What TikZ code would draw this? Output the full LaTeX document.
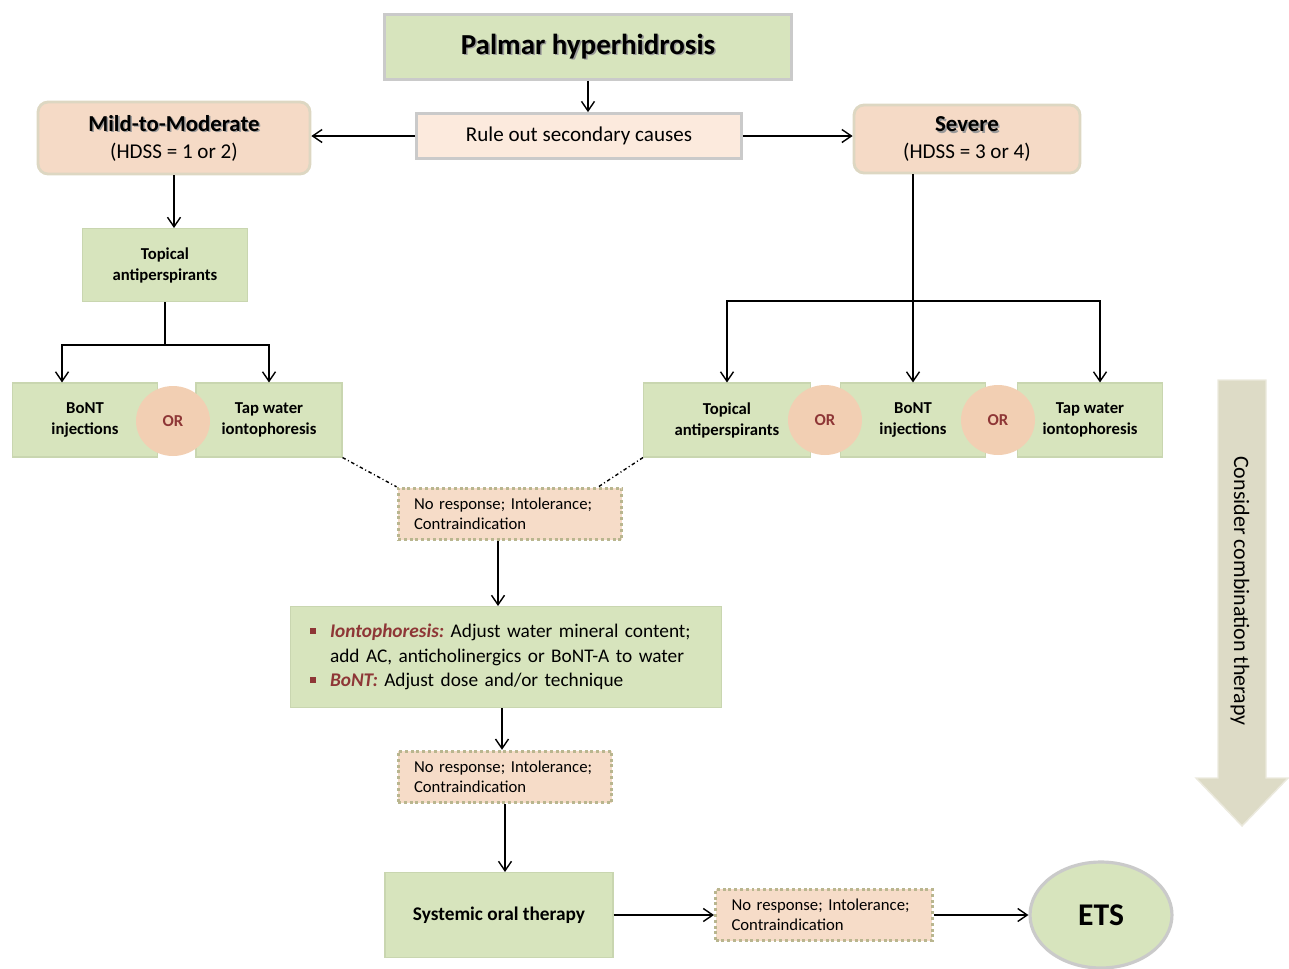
\documentclass[tikz,border=0pt]{standalone}
\usepackage{fontspec}
\setmainfont{Carlito}
\usepackage{xcolor}
\usetikzlibrary{shapes.geometric,arrows.meta}
\frenchspacing

\definecolor{leafgreen}{HTML}{D7E4BD}
\definecolor{greenedge}{HTML}{C9D6B0}
\definecolor{peach}{HTML}{F5DAC6}
\definecolor{rulepeach}{HTML}{FCEADD}
\definecolor{dotpeach}{HTML}{F6DCC8}
\definecolor{orpeach}{HTML}{F2CFB3}
\definecolor{ordark}{HTML}{8E3636}
\definecolor{arrowbeige}{HTML}{DDDBC6}
\definecolor{edgegray}{HTML}{CACACA}
\definecolor{edgebeige}{HTML}{DDD7C2}
\definecolor{dotedge}{HTML}{B9B68F}

\newcommand{\shadowed}[1]{\makebox[0pt][l]{\hspace{0.9pt}\raisebox{-0.9pt}{\textcolor{black!40}{#1}}}#1}
\newcommand{\redbul}{\makebox[0.4cm][l]{\textcolor{ordark}{\rule[0.2em]{0.3em}{0.3em}}}}

\tikzset{
    >={Straight Barb[length=0.19cm,width=0.26cm,line width=0.8pt]},
    link/.style={line width=0.8pt},
    bigbox/.style={draw=edgegray,line width=1.6pt,fill=leafgreen},
    choicebox/.style={draw=greenedge,line width=0.6pt,fill=leafgreen,
        minimum height=1.48cm,align=center,
        font=\fontsize{9.5}{12}\selectfont\bfseries},
    levelbox/.style={draw=edgebeige,line width=1.6pt,fill=peach,
        rounded corners=0.2cm,align=center},
    failbox/.style={draw=dotedge,line width=1.7pt,dash pattern=on 1.7pt off 1.6pt,
        fill=dotpeach,minimum height=1.03cm,inner xsep=0.32cm,align=left,
        font=\fontsize{9.5}{11.4}\selectfont},
    orblob/.style={ellipse,fill=orpeach,minimum width=1.48cm,minimum height=1.4cm,
        text=ordark,font=\fontsize{9.5}{12}\selectfont\bfseries}
}

\begin{document}
\begin{tikzpicture}[x=0.02cm,y=-0.02cm]
\useasboundingbox (0,0) rectangle (1289,968);

% top of the tree
\path
    (588,47) node [bigbox,minimum width=8.14cm,minimum height=1.3cm,
        font=\fontsize{16.5}{20}\selectfont\bfseries] (palmar) {\shadowed{Palmar hyperhidrosis}}
    (579,136) node [draw=edgegray,line width=1.6pt,fill=rulepeach,
        minimum width=6.5cm,minimum height=0.9cm,
        font=\fontsize{12}{14}\selectfont] (rule) {Rule out secondary causes}
    (174,138) node [levelbox,minimum width=5.44cm,minimum height=1.44cm] (mild)
        {{\fontsize{13}{16}\selectfont\bfseries\shadowed{Mild-to-Moderate}}\\[0.12cm]
         {\fontsize{12}{14}\selectfont (HDSS = 1 or 2)}}
    (967,139) node [levelbox,minimum width=4.52cm,minimum height=1.36cm] (severe)
        {{\fontsize{13}{16}\selectfont\bfseries\shadowed{Severe}}\\[0.12cm]
         {\fontsize{12}{14}\selectfont (HDSS = 3 or 4)}};
\draw [link,->] (palmar.south) -- (palmar.south |- rule.north);
\draw [link,->] (rule.west) -- (rule.west -| mild.east);
\draw [link,->] (rule.east) -- (rule.east -| severe.west);

% mild-to-moderate branch
\path
    (165,265) node [choicebox,minimum width=3.3cm,minimum height=1.46cm] (topL) {Topical\\ antiperspirants}
    (85,420) node [choicebox,minimum width=2.9cm] (bontL) {BoNT\\ injections}
    (269,420) node [choicebox,minimum width=2.92cm] (tapL) {Tap water\\ iontophoresis}
    (173,421) node [orblob] (orL) {OR};
\draw [link,->] (mild.south) -- (mild.south |- topL.north);
\draw [link] (topL.south) -- (165,345) coordinate (forkL);
\draw [link,->] (forkL) -| ([xshift=-0.46cm]bontL.north);
\draw [link,->] (forkL) -| (tapL.north);

% severe branch
\path
    (727,420) node [choicebox,minimum width=3.34cm] (topR) {Topical\\ antiperspirants}
    (913,420) node [choicebox,minimum width=2.9cm] (bontR) {BoNT\\ injections}
    (1090,420) node [choicebox,minimum width=2.9cm] (tapR) {Tap water\\ iontophoresis}
    (825,420) node [orblob] (orR1) {OR}
    (998,420) node [orblob] (orR2) {OR};
\draw [link,->] (bontR.north |- severe.south) -- (bontR.north);
\coordinate (forkR) at (913,301);
\draw [link,->] (forkR) -| (topR.north);
\draw [link,->] (forkR) -| ([xshift=0.2cm]tapR.north);

% failure steps
\path
    (510,514) node [failbox,text width=3.84cm] (fail1) {No response; Intolerance;\\ Contraindication}
    (506,657) node [bigbox,draw=greenedge,line width=0.6pt,minimum width=8.64cm,minimum height=2.02cm,
        text width=7.84cm,align=left,font=\fontsize{11}{14}\selectfont] (adjust)
        {\redbul\textcolor{ordark}{\bfseries\itshape Iontophoresis:} Adjust water mineral content;\\
         \hspace*{0.4cm}add AC, anticholinergics or BoNT-A to water\\
         \redbul\textcolor{ordark}{\bfseries\itshape BoNT:} Adjust dose and/or technique}
    (505,777) node [failbox,text width=3.64cm] (fail2) {No response; Intolerance;\\ Contraindication}
    (499,915) node [bigbox,draw=greenedge,line width=0.6pt,minimum width=4.56cm,minimum height=1.7cm,
        font=\fontsize{11}{14}\selectfont\bfseries] (oral) {Systemic oral therapy}
    (824,915) node [failbox,text width=3.70cm] (fail3) {No response; Intolerance;\\ Contraindication}
    (1101,915) node [ellipse,draw=edgegray,line width=1.8pt,fill=leafgreen,
        minimum width=2.84cm,minimum height=2.12cm,
        font=\fontsize{18}{20}\selectfont\bfseries] (ets) {ETS};
\draw [link,dash pattern=on 2pt off 1.5pt on 0.6pt off 1.5pt] (tapL.south east) -- (fail1.north west);
\draw [link,dash pattern=on 2pt off 1.5pt on 0.6pt off 1.5pt] (topR.south west) -- ([xshift=-0.5cm]fail1.north east);
\draw [link,->] ([xshift=-0.24cm]fail1.south) -- ([xshift=-0.24cm]fail1.south |- adjust.north);
\draw [link,->] ([xshift=-0.08cm]adjust.south) -- ([xshift=-0.08cm]adjust.south |- fail2.north);
\draw [link,->] (fail2.south) -- (fail2.south |- oral.north);
\draw [link,->] (oral.east) -- (fail3.west);
\draw [link,->] (fail3.east) -- (ets.west);

% combination arrow
\draw [draw=arrowbeige!60!white,line width=0.8pt,fill=arrowbeige]
    (1218,380) -- (1266,380) -- (1266,778) -- (1288,778) -- (1242,826)
    -- (1196,778) -- (1218,778) -- cycle;
\node [rotate=-90,font=\fontsize{12.5}{14}\selectfont] (combo) at (1240,591) {Consider combination therapy};
\end{tikzpicture}
\end{document}
